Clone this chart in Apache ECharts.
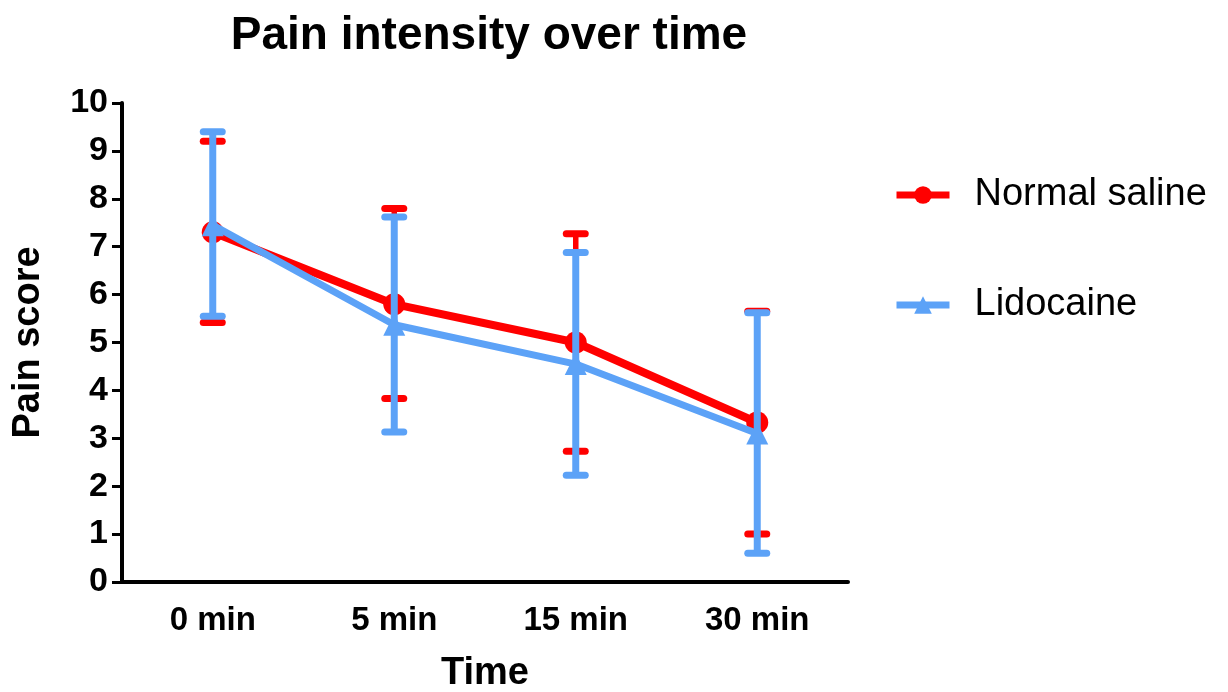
<!DOCTYPE html>
<html><head><meta charset="utf-8">
<script src="https://cdn.jsdelivr.net/npm/echarts@6/dist/echarts.min.js"></script>
<style>html,body{margin:0;padding:0;background:#fff}#c{width:1228px;height:692px}</style>
</head><body><div id="c"></div>
<script>
const categories = ['0 min', '5 min', '15 min', '30 min'];
const salineMean = [7.30, 5.80, 5.00, 3.33];
const salineLow  = [5.42, 3.83, 2.73, 1.00];
const salineHigh = [9.20, 7.80, 7.27, 5.65];
const lidoMean = [7.45, 5.37, 4.55, 3.10];
const lidoLow  = [5.55, 3.13, 2.23, 0.60];
const lidoHigh = [9.40, 7.62, 6.88, 5.62];
const yTicks = [0, 1, 2, 3, 4, 5, 6, 7, 8, 9, 10];

const RED = '#FF0000', BLUE = '#5CA2F7';
const FONT = 'Liberation Sans, Arial, sans-serif';

function errRender(color, w) {
  return function (params, api) {
    const x = api.value(0), lo = api.value(1), hi = api.value(2);
    const a = api.coord([x, lo]), b = api.coord([x, hi]);
    const hw = 9.5;
    const st = { stroke: color, lineWidth: w, lineCap: 'butt', fill: null };
    const cap = { stroke: color, lineWidth: 7, lineCap: 'round', fill: null };
    return { type: 'group', children: [
      { type: 'line', shape: { x1: a[0], y1: a[1], x2: b[0], y2: b[1] }, style: st },
      { type: 'line', shape: { x1: a[0] - hw, y1: a[1], x2: a[0] + hw, y2: a[1] }, style: cap },
      { type: 'line', shape: { x1: b[0] - hw, y1: b[1], x2: b[0] + hw, y2: b[1] }, style: cap }
    ]};
  };
}

const chart = echarts.init(document.getElementById('c'), null, { renderer: 'canvas' });
chart.setOption({
  animation: false,
  backgroundColor: '#fff',
  title: {
    text: 'Pain intensity over time', left: 484, top: 8, textAlign: 'center',
    textStyle: { fontFamily: FONT, fontWeight: 'bold', fontSize: 46, color: '#000' }
  },
  legend: {
    orient: 'vertical', left: 893, top: 176, padding: 0, itemGap: 72, itemWidth: 53, itemHeight: 22,
    lineStyle: { width: 7 },
    textStyle: { fontFamily: FONT, fontSize: 38, color: '#000', padding: [0, 0, 0, 20] },
    data: ['Normal saline', 'Lidocaine']
  },
  grid: { left: 122, right: 380, top: 103, bottom: 110, containLabel: false, outerBoundsMode: 'none' },
  xAxis: {
    type: 'category', data: categories, boundaryGap: true,
    name: 'Time', nameLocation: 'middle', nameGap: 73,
    nameTextStyle: { fontFamily: FONT, fontWeight: 'bold', fontSize: 38, color: '#000' },
    axisLine: { lineStyle: { color: '#000', width: 4 } },
    axisTick: { alignWithLabel: true, length: 10, lineStyle: { width: 3, color: '#000' } },
    axisLabel: { margin: 22, fontFamily: FONT, fontWeight: 'bold', fontSize: 33, color: '#000' },
    splitLine: { show: false }
  },
  yAxis: {
    type: 'value', min: yTicks[0], max: yTicks[yTicks.length - 1], interval: 1,
    name: 'Pain score', nameLocation: 'middle', nameGap: 74, nameRotate: 90,
    nameTextStyle: { fontFamily: FONT, fontWeight: 'bold', fontSize: 38, color: '#000' },
    axisLine: { show: true, lineStyle: { color: '#000', width: 4 } },
    axisTick: { show: true, length: 10, lineStyle: { width: 3, color: '#000' } },
    axisLabel: { margin: 14, fontFamily: FONT, fontWeight: 'bold', fontSize: 34, color: '#000' },
    splitLine: { show: false }
  },
  series: [
    { type: 'custom', name: 'salineErr', z: 2, renderItem: errRender(RED, 5.5),
      encode: { x: 0, y: [1, 2] },
      data: categories.map((c, i) => [i, salineLow[i], salineHigh[i]]) },
    { type: 'line', name: 'Normal saline', z: 3, data: salineMean, color: RED,
      symbol: 'circle', symbolSize: 22, lineStyle: { width: 8, color: RED }, itemStyle: { color: RED } },
    { type: 'custom', name: 'lidoErr', z: 4, renderItem: errRender(BLUE, 7),
      encode: { x: 0, y: [1, 2] },
      data: categories.map((c, i) => [i, lidoLow[i], lidoHigh[i]]) },
    { type: 'line', name: 'Lidocaine', z: 5, data: lidoMean, color: BLUE,
      symbol: 'triangle', symbolSize: 22, lineStyle: { width: 7, color: BLUE }, itemStyle: { color: BLUE } }
  ]
});
</script></body></html>
